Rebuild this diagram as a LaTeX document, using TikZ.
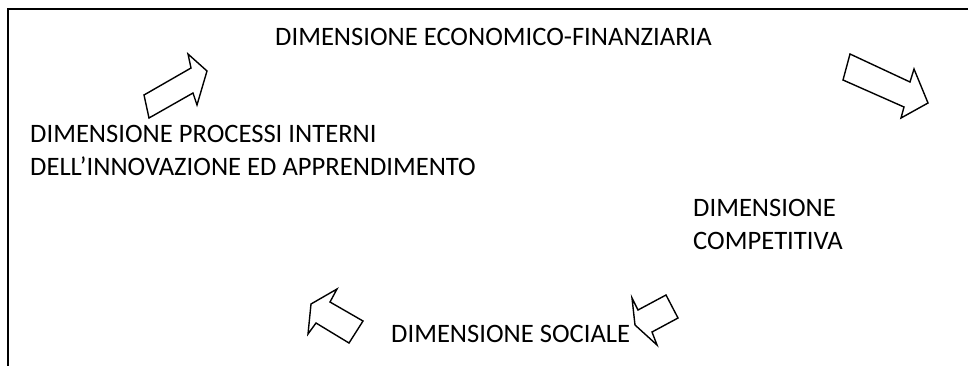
\documentclass[tikz,border=0pt]{standalone}
\usepackage{fontspec}
\setmainfont{Carlito}
\begin{document}
\begin{tikzpicture}[x=1pt, y=-1pt,
  label text/.style={anchor=base west, inner sep=0pt, align=left, font=\fontsize{26.6}{33}\selectfont},
  block arrow/.style={draw=black, line width=1.4pt, line join=miter, fill=white}]
\useasboundingbox (0,0) rectangle (968,365);
\draw[line width=2.6pt] (968,9) -- (8,9) -- (8,366);
\node[label text] (econ) at (275,45) {DIMENSIONE ECONOMICO-FINANZIARIA};
\node[label text] (processi) at (30,175) {DIMENSIONE PROCESSI INTERNI\\DELL’INNOVAZIONE ED APPRENDIMENTO};
\node[label text] (competitiva) at (693,249) {DIMENSIONE\\COMPETITIVA};
\node[label text] (sociale) at (391,342) {DIMENSIONE SOCIALE};
\draw[block arrow] (144,95) -- (191,68) -- (188,54) -- (207,71) -- (197,105) -- (193,93) -- (149,118) -- cycle;
\draw[block arrow] (850,54) -- (910,82) -- (914,69) -- (928,103) -- (901,118) -- (904,107) -- (843,80) -- cycle;
\draw[block arrow] (337,289) -- (330,302) -- (363,321) -- (349,343) -- (316,323) -- (308,334) -- (311,304) -- cycle;
\draw[block arrow] (632,298) -- (638,310) -- (666,295) -- (678,318) -- (652,332) -- (657,345) -- (635,325) -- cycle;
\end{tikzpicture}
\end{document}
